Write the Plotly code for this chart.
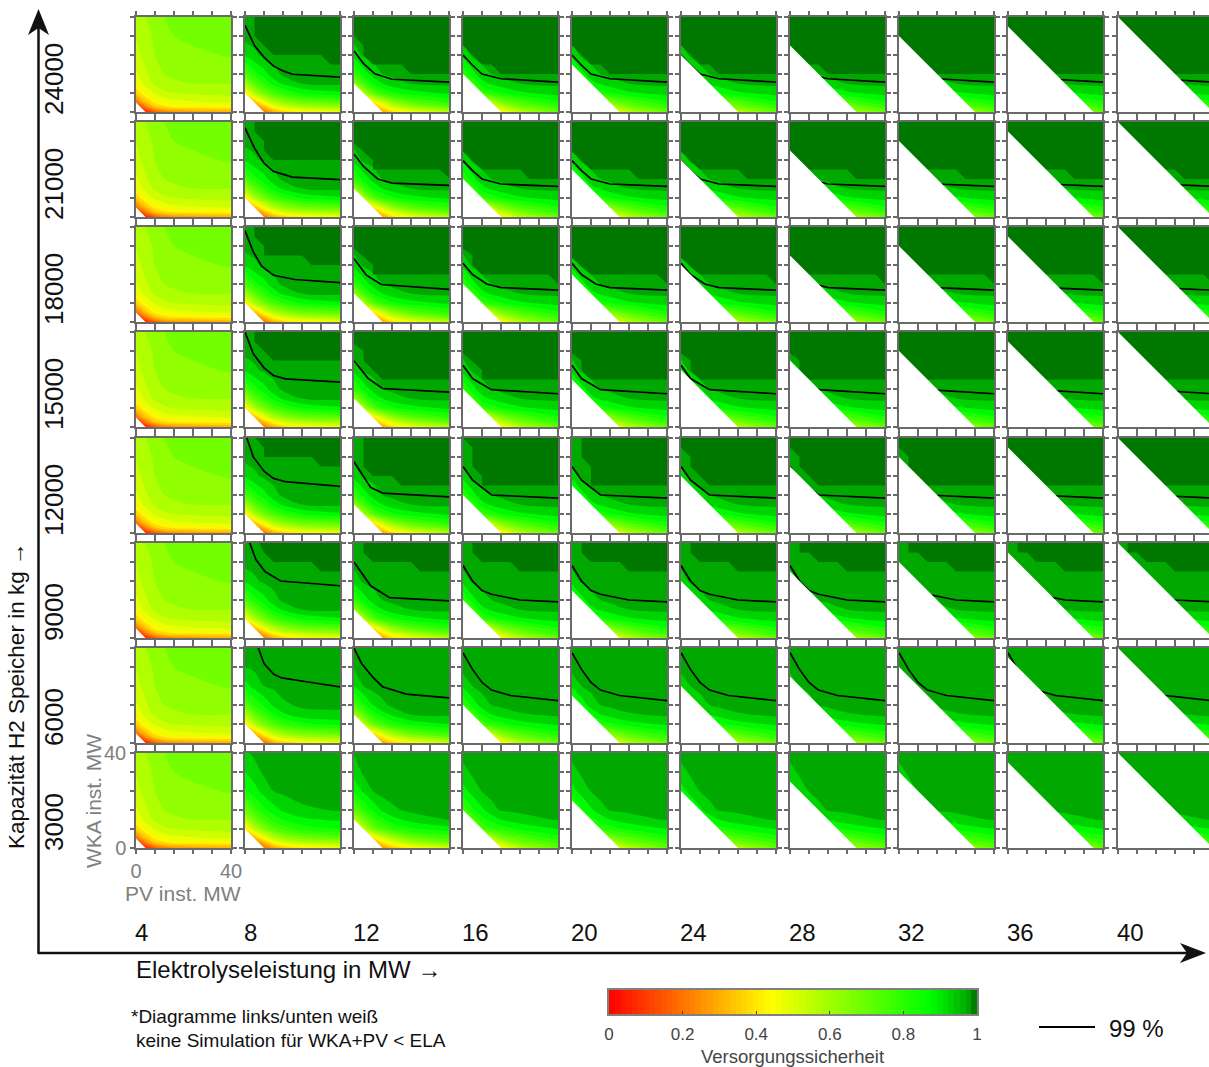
import numpy as np
import plotly.graph_objects as go

W, H = 1209, 1067

# ---- data -------------------------------------------------------------
ela_mw = [4, 8, 12, 16, 20, 24, 28, 32, 36, 40]
capacity_kg = [3000, 6000, 9000, 12000, 15000, 18000, 21000, 24000]
pv_nodes = [0, 4, 8, 12, 16, 24, 40]
wka_nodes = [0, 2, 4, 8, 12, 16, 24, 32, 40]

# supply security in percent; rows = wka_nodes, columns = pv_nodes
soc_ela4 = [
    [0, 5, 15, 22, 25, 27, 30],
    [5, 20, 33, 38, 40, 41, 42],
    [18, 33, 42, 46, 48, 49, 50],
    [36, 45, 51, 54, 55, 56, 57],
    [45, 52, 56, 58, 59, 60, 60],
    [49, 54, 58, 60, 61, 62, 62],
    [53, 57, 60, 62, 63, 64, 65.5],
    [55, 58, 61, 63, 65, 66, 68],
    [56, 60, 62, 65, 67, 68, 70],
]
soc_ela8_3000 = [
    [0, 5, 18, 28, 34, 40, 46],
    [10, 18, 30, 42, 48, 54, 58],
    [18, 30, 44, 54, 60, 66, 70],
    [40, 55, 65, 72, 77, 82, 85],
    [56, 68, 76, 82, 85, 89, 91],
    [68, 78, 84, 88, 91, 94, 95.5],
    [84, 88, 92, 95, 96, 97, 97],
    [90, 93, 96, 97, 97, 97, 97],
    [94, 96, 97, 97, 97, 97, 97],
]
soc_ela8_6000 = [
    [0, 5, 19, 29, 35, 41, 46],
    [10, 19, 31, 43, 49, 55, 59],
    [19, 31, 45, 55, 61, 67, 71],
    [41, 57, 67, 74, 79, 84, 87],
    [58, 70, 78, 85, 89, 93, 94],
    [71, 81, 86, 91, 94, 96, 96],
    [88, 92, 95, 96, 97, 97, 97],
    [95, 96, 97, 97, 97, 97, 97],
    [97, 97, 97, 97, 97, 97, 97],
]
soc_ela8_9000 = [
    [0, 5, 20, 30, 36, 42, 46],
    [10, 20, 32, 44, 50, 56, 60],
    [20, 32, 46, 56, 62, 68, 72],
    [42, 58, 68, 75, 80, 86, 89],
    [60, 72, 80, 87, 91, 95, 96],
    [74, 83, 88, 93, 96, 97, 97],
    [91, 94, 96, 97, 97, 98, 98],
    [97, 97, 97, 98, 98, 98, 98],
    [98, 98, 98, 98, 98, 98, 98],
]
soc_ela12_3000 = [
    [0, 6, 16, 26, 34, 42, 52],
    [8, 16, 28, 38, 46, 56, 66],
    [16, 28, 38, 50, 58, 68, 76],
    [38, 54, 68, 74, 79, 84, 88],
    [56, 68, 78, 84, 88, 92, 95.5],
    [70, 80, 86, 91, 94, 96, 97],
    [86, 91, 95, 97, 97, 97, 97],
    [92, 96, 97, 97, 97, 97, 97],
    [95.5, 97, 97, 97, 97, 97, 97],
]
soc_ela12_6000 = [
    [0, 6, 17, 27, 35, 43, 53],
    [8, 17, 29, 39, 47, 57, 67],
    [17, 29, 39, 51, 60, 70, 78],
    [40, 56, 70, 77, 82, 87, 90],
    [60, 72, 82, 88, 91, 95, 96],
    [74, 84, 90, 94, 96, 97, 97],
    [90, 95, 97, 97, 97, 97, 97],
    [95.5, 97, 97, 97, 97, 97, 97],
    [97, 97, 97, 97, 97, 97, 97],
]
soc_ela12_9000 = [
    [5, 10, 20, 28, 38, 46, 56],
    [10, 20, 30, 40, 50, 60, 70],
    [20, 30, 40, 52, 62, 72, 80],
    [42, 58, 72, 80, 84, 88, 91],
    [62, 76, 86, 90, 93, 95, 96],
    [78, 87, 92, 95, 96, 97, 97],
    [92, 96, 97, 97, 97, 97, 97],
    [97, 97, 97, 97, 97, 97, 97],
    [98, 98, 98, 98, 98, 98, 98],
]
soc_ela16_3000 = [
    [5, 15, 25, 34, 42, 56, 70],
    [15, 25, 35, 44, 54, 66, 76],
    [25, 35, 45, 55, 65, 73, 82],
    [46, 60, 74, 79, 82, 86, 90],
    [62, 74, 83, 87, 90, 93, 95.5],
    [76, 84, 89, 93, 95.5, 96, 97],
    [88, 92, 95.2, 97, 97, 97, 97],
    [93, 96, 97, 97, 97, 97, 97],
    [97, 97, 97, 97, 97, 97, 97],
]
soc_ela16_6000 = [
    [5, 15, 25, 34, 42, 56, 70],
    [15, 25, 35, 44, 54, 66, 77],
    [25, 35, 45, 55, 65, 74, 83],
    [47, 61, 76, 81, 84, 88, 91],
    [64, 76, 86, 90, 92, 94.5, 96],
    [78, 87, 92, 95, 96, 97, 97],
    [91, 95, 97, 97, 97, 97, 97],
    [97, 97, 97, 97, 97, 97, 97],
    [97, 97, 97, 97, 97, 97, 97],
]
soc_ela16_9000 = [
    [5, 15, 25, 34, 42, 56, 70],
    [15, 25, 35, 44, 54, 66, 78],
    [25, 35, 45, 55, 65, 74, 84],
    [48, 62, 78, 82, 85, 89, 92],
    [65, 78, 88, 91, 93, 95, 96],
    [80, 88, 93, 95, 96, 97, 97],
    [92, 96, 97, 97, 97, 97, 97],
    [97, 97, 97, 97, 97, 97, 97],
    [98, 98, 98, 98, 98, 98, 98],
]

# 99 % contour: capacity -> (PV values, WKA values)
line99_ela8 = {
    24000: ([0, 4, 8, 12, 16, 20, 40], [36.5, 28, 23, 19.4, 17.3, 15.9, 14.7]),
    21000: ([0, 4, 8, 12, 20, 40], [37.5, 29, 22.7, 19.2, 16.8, 15.7]),
    18000: ([0, 3.5, 7, 12, 21, 40], [38.5, 29.5, 23.5, 19.7, 17.9, 16.6]),
    15000: ([0, 3.5, 8, 12, 17, 40], [40, 30.8, 24.9, 21.7, 20.3, 18.9]),
    12000: ([0.8, 3.5, 8, 12, 17, 40], [40, 32, 26, 23, 21.6, 19.6]),
    9000: ([2, 4.6, 8.4, 15, 40], [40, 33, 28, 24, 22]),
    6000: ([5.6, 8, 12, 15.4, 24.5, 40], [40, 33.5, 29, 27.4, 26, 23.6]),
}
line99_ela12 = {
    24000: ([0, 4, 8.8, 16, 40], [25.7, 20.4, 16.1, 13.8, 12.6]),
    21000: ([0, 4, 10, 16, 40], [26.5, 21.3, 16, 14.3, 13.3]),
    18000: ([0, 5.2, 11.5, 40], [26.7, 19.7, 15.8, 13.7]),
    15000: ([0, 6, 12, 40], [27.9, 20.4, 16.2, 14.7]),
    12000: ([0, 4, 7, 12, 40], [30, 23.5, 19.2, 16.8, 15.2]),
    9000: ([0, 7, 15, 40], [32, 22, 17, 15.6]),
    6000: ([0, 3.2, 8, 12, 22, 40], [40, 33.5, 27.6, 23.7, 20.6, 19]),
}
line99_ela16 = {
    24000: ([0, 3.7, 8, 12, 16, 40], [24, 20, 16, 15, 14, 12.6]),
    21000: ([0, 4, 8, 16, 40], [23.7, 19.5, 16, 13.9, 12.9]),
    18000: ([0, 4, 10, 16, 40], [24.7, 20, 16, 14.5, 13.4]),
    15000: ([0, 4, 12, 40], [26, 20.4, 15.7, 14]),
    12000: ([0, 4, 12, 40], [28, 22.3, 16, 14.7]),
    9000: ([0, 4, 8, 12, 24, 40], [30.5, 24, 20, 18.4, 16, 15.2]),
    6000: ([0, 4, 8, 12, 20, 40], [38, 31, 25.5, 22.3, 20, 17.8]),
}

# edge of the dark band: capacity -> (PV values, WKA values)
dark_ela8 = {
    24000: ([4, 4, 12, 32, 36, 40], [40, 32, 24, 24, 20, 20]),
    21000: ([4, 4, 8, 8, 12, 40], [40, 36, 32, 28, 24, 24]),
    18000: ([4, 4, 8, 8, 24, 28, 40], [40, 36, 32, 28, 28, 24, 24]),
    15000: ([4, 4, 12, 40], [40, 36, 28, 28]),
    12000: ([4.4, 8, 8, 28, 32, 40], [40, 36, 32, 32, 28, 28]),
    9000: ([6, 8, 12, 28, 32, 40], [40, 36, 32, 32, 28, 28]),
}
dark_ela12 = {
    24000: ([0, 4, 4, 8, 20, 24, 40], [32, 28, 24, 20, 20, 16, 16]),
    21000: ([0, 8, 8, 36, 40], [31, 24, 20, 20, 16.5]),
    18000: ([0, 8, 8, 40], [31, 24, 20, 20]),
    15000: ([0, 4, 4, 12, 40], [35, 32, 28, 20, 20]),
    12000: ([4, 4, 8, 16, 20, 40], [40, 28, 24, 24, 20, 20]),
    9000: ([4, 4, 8, 24, 28, 40], [40, 36, 32, 32, 28, 28]),
}
dark_ela16 = {
    24000: ([0, 8, 12, 16, 40], [28, 20, 20, 16, 16]),
    21000: ([0, 8, 24, 28, 40], [27.5, 20, 20, 16, 16]),
    18000: ([0, 4, 4, 8, 36, 40], [31, 28, 24, 20, 20, 16]),
    15000: ([0, 8, 8, 40], [31, 24, 20, 20]),
    12000: ([0, 4, 4, 8, 8, 40], [40, 36, 28, 24, 20, 20]),
    9000: ([4, 4, 8, 20, 24, 40], [40, 36, 32, 32, 28, 28]),
}
dark_ela20 = {
    24000: dark_ela16[24000],
    21000: dark_ela16[21000],
    18000: ([0, 8, 36, 40], [27, 20, 20, 16]),
    15000: ([0, 4, 4, 8, 40], [31, 28, 24, 20, 20]),
    12000: ([4, 4, 8, 8, 40], [40, 32, 28, 20, 20]),
    9000: dark_ela16[9000],
}
dark_ela24 = dict(dark_ela20)
dark_ela24[12000] = ([0, 4, 4, 8, 12, 40], [36, 32, 28, 24, 20, 20])
dark_ela28 = dict(dark_ela24)
dark_ela28[9000] = ([4, 4, 8, 12, 20, 24, 40], [40, 36, 36, 32, 32, 28, 28])

colorbar_steps = list(np.arange(0.5, 64) / 64 * 100)
colorbar_ticks = [0, 20, 40, 60, 80, 100]
colorbar_labels = ["0", "0.2", "0.4", "0.6", "0.8", "1"]

# ---- style ------------------------------------------------------------
FONT = "Liberation Sans"
FRAME = "#6a6a6a"
DARK = "#007800"
SCALE = [[0, "#ff0000"], [0.44, "#ffff00"], [0.87, "#00ff00"], [0.925, "#00d400"],
         [0.975, "#00a800"], [1, "#006c00"]]
X0, Y0, PITCH_X, PITCH_Y, PW, PH = 135.7, 16.7, 109.1, 105.2, 95.0, 95.0


def fx(p):
    return p / W


def fy(p):
    return 1 - p / H


fig = go.Figure()
layout = {}
annotations = []


def ann(text, x, y, size, color="#111111", xa="center", ya="middle", angle=0):
    annotations.append(dict(text=text, x=fx(x), y=fy(y), xref="paper", yref="paper",
                            xanchor=xa, yanchor=ya, textangle=angle, showarrow=False,
                            font=dict(family=FONT, size=size, color=color)))


def soc_table(ela, cap):
    if ela == 4:
        return soc_ela4
    group = {8: (soc_ela8_3000, soc_ela8_6000, soc_ela8_9000),
             12: (soc_ela12_3000, soc_ela12_6000, soc_ela12_9000)}.get(
        ela, (soc_ela16_3000, soc_ela16_6000, soc_ela16_9000))
    return group[0] if cap == 3000 else group[1] if cap == 6000 else group[2]


def pick(ela, by):
    return by[min(k for k in by if k >= ela)] if ela <= max(by) else by[max(by)]


lines_by_ela = {8: line99_ela8, 12: line99_ela12, 16: line99_ela16}
darks_by_ela = {8: dark_ela8, 12: dark_ela12, 16: dark_ela16, 20: dark_ela20,
                24: dark_ela24, 28: dark_ela28}

n = 0
for r, cap in enumerate(capacity_kg):
    top = round(Y0 + (7 - r) * PITCH_Y)
    for c, ela in enumerate(ela_mw):
        n += 1
        left = round(X0 + c * PITCH_X)
        right = min(left + PW, W)
        xa, ya = f"x{n}", f"y{n}"
        xrange_max = 40 * (right - left) / PW
        corner = r == 0 and c == 0
        layout[f"xaxis{n}"] = dict(
            domain=[fx(left), fx(right)], range=[0, xrange_max], anchor=ya,
            tickvals=[0, 8, 16, 24, 32, 40], ticktext=["0", "", "", "", "", "40"],
            showticklabels=corner, ticks="outside", ticklen=4, tickwidth=1.5,
            tickcolor=FRAME, showline=True, linecolor=FRAME, linewidth=1.5,
            mirror="ticks", showgrid=False, zeroline=False,
            tickfont=dict(family=FONT, size=20, color="#808080"))
        layout[f"yaxis{n}"] = dict(
            domain=[fy(top + PH), fy(top)], range=[0, 40], anchor=xa,
            tickvals=[0, 8, 16, 24, 32, 40], ticktext=["0", "", "", "", "", "40"],
            showticklabels=corner, ticks="outside", ticklen=4, tickwidth=1.5,
            tickcolor=FRAME, showline=True, linecolor=FRAME, linewidth=1.5,
            mirror="ticks" if c < 9 else False, showgrid=False, zeroline=False,
            tickfont=dict(family=FONT, size=20, color="#808080"))
        fig.add_trace(go.Contour(
            x=pv_nodes, y=wka_nodes, z=soc_table(ela, cap), xaxis=xa, yaxis=ya,
            contours=dict(start=0, end=100, size=5, coloring="fill", showlines=False),
            line=dict(width=0), colorscale=SCALE, zmin=0, zmax=100,
            showscale=False, hoverinfo="skip"))
        if ela >= 8:
            dk = pick(ela, darks_by_ela).get(cap)
            if dk:
                fig.add_trace(go.Scatter(
                    x=dk[0] + [40, dk[0][0]], y=dk[1] + [40, 40], xaxis=xa, yaxis=ya,
                    mode="lines", fill="toself", fillcolor=DARK, line=dict(width=0),
                    hoverinfo="skip", showlegend=False))
            ln = pick(ela, lines_by_ela).get(cap)
            if ln:
                fig.add_trace(go.Scatter(
                    x=ln[0], y=ln[1], xaxis=xa, yaxis=ya, mode="lines",
                    line=dict(color="black", width=1.7), hoverinfo="skip", showlegend=False))
        # no simulation where WKA + PV < ELA (extended past the frame along the same diagonal)
        fig.add_trace(go.Scatter(
            x=[-2, ela + 2, -2, -2], y=[-2, -2, ela + 2, -2], xaxis=xa, yaxis=ya, mode="lines",
            fill="toself", fillcolor="white", line=dict(width=0),
            hoverinfo="skip", showlegend=False))
        if c == 0:
            ann(str(cap), 54, top + PH + 5, 26, xa="center", ya="bottom", angle=-90)
        if r == 0:
            ann(str(ela), left - 3, 932, 24, xa="left")

# colour bar
n += 1
layout[f"xaxis{n}"] = dict(domain=[fx(609), fx(977)], range=[0, 100], anchor=f"y{n}",
                           tickvals=colorbar_ticks, ticktext=colorbar_labels, ticks="inside",
                           ticklen=3, tickcolor="#444444", showline=True, linecolor="#808080",
                           linewidth=1.5, mirror=True, showgrid=False, zeroline=False,
                           ticklabelstandoff=4,
                           tickfont=dict(family=FONT, size=17, color="#444444"))
layout[f"yaxis{n}"] = dict(domain=[fy(1014), fy(990)], range=[0, 1], anchor=f"x{n}",
                           showticklabels=False, ticks="", showline=True, linecolor="#808080",
                           linewidth=1.5, mirror=True, showgrid=False, zeroline=False)
fig.add_trace(go.Heatmap(x=colorbar_steps, y=[0.5], z=[colorbar_steps], xaxis=f"x{n}", yaxis=f"y{n}",
                         colorscale=SCALE, zmin=0, zmax=100, showscale=False, hoverinfo="skip"))

# texts
ann("Kapazität H2 Speicher in kg →", 16, 851, 22.5, xa="center", ya="bottom", angle=-90)
ann("Elektrolyseleistung in MW →", 134, 969, 24, xa="left")
ann("WKA inst. MW", 93, 870, 21, "#808080", ya="bottom", angle=-90)
ann("PV inst. MW", 123, 893, 21, "#808080", xa="left")
ann("*Diagramme links/unten weiß", 129, 1016, 19, xa="left")
ann("keine Simulation für WKA+PV &lt; ELA", 134, 1040, 19, xa="left")
ann("Versorgungssicherheit", 792, 1056, 18.5, "#444444")
ann("99 %", 1107, 1028, 24, xa="left")


def path(points):
    return "M " + " L ".join(f"{fx(x):.5f} {fy(y):.5f}" for x, y in points) + " Z"


shapes = [
    dict(type="line", xref="paper", yref="paper", x0=fx(38.5), x1=fx(38.5), y0=fy(953), y1=fy(28),
         line=dict(color="#111111", width=2.5)),
    dict(type="line", xref="paper", yref="paper", x0=fx(37.5), x1=fx(1190), y0=fy(953), y1=fy(953),
         line=dict(color="#111111", width=2.5)),
    dict(type="path", xref="paper", yref="paper", fillcolor="#111111", line=dict(width=0),
         path=path([(38.5, 9), (49, 35), (38.5, 28), (28, 35)])),
    dict(type="path", xref="paper", yref="paper", fillcolor="#111111", line=dict(width=0),
         path=path([(1206, 953), (1180, 963), (1187, 953), (1180, 943)])),
    dict(type="line", xref="paper", yref="paper", x0=fx(1039), x1=fx(1095), y0=fy(1027), y1=fy(1027),
         line=dict(color="black", width=2)),
]

fig.update_layout(width=W, height=H, autosize=False,
                  margin=dict(l=0, r=0, t=0, b=0, pad=0, autoexpand=False),
                  paper_bgcolor="white", plot_bgcolor="white", showlegend=False,
                  annotations=annotations, shapes=shapes, **layout)
fig.write_html("out.html", config={"displayModeBar": False, "responsive": False},
               default_width=f"{W}px", default_height=f"{H}px",
               post_script="document.body.style.margin='0';document.body.style.padding='0';"
                           "document.documentElement.style.overflow='hidden';")
with open("out.html", encoding="utf-8") as f:
    page = f.read()
page = page.replace("<body>", '<body style="margin:0;padding:0;overflow:hidden">', 1)
with open("out.html", "w", encoding="utf-8") as f:
    f.write(page)
